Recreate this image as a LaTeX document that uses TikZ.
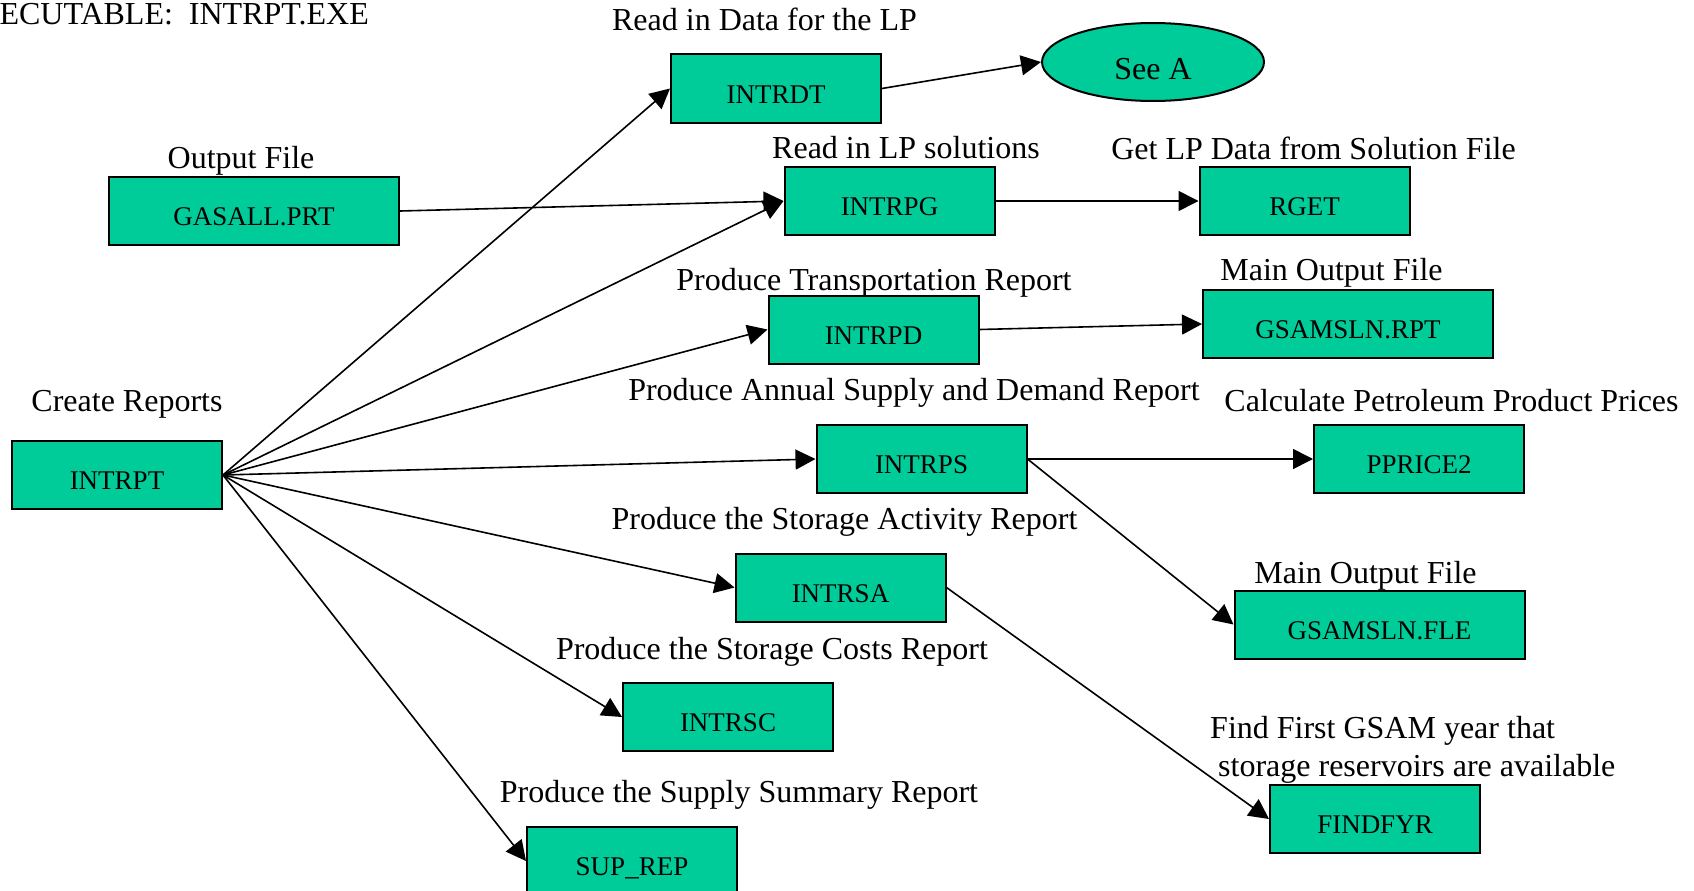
\documentclass[tikz,border=0pt]{standalone}
\usepackage{fontspec}
\setmainfont{Liberation Serif}
\usepackage{tikz}
\usetikzlibrary{arrows.meta}
\usetikzlibrary{shapes.geometric}
\definecolor{boxgreen}{RGB}{0,204,153}

\begin{document}
\begin{tikzpicture}[x=1pt,y=-1pt,
  box/.style={draw=black, line width=2pt, fill=boxgreen, minimum width=210pt,
    minimum height=68pt, inner sep=0pt, text height=29pt, text depth=0pt,
    font=\fontsize{27}{32}\selectfont},
  widebox/.style={box, minimum width=290pt},
  lbl/.style={anchor=base, inner sep=0pt, font=\fontsize{32}{38}\selectfont},
  link/.style={line width=1.6pt, -{Triangle[length=20pt,width=20pt]}}]
\useasboundingbox (0,0) rectangle (1694,891);
\clip (0,0) rectangle (1694,891);

% boxes
\node[box] (intrpt) at (117,475) {INTRPT};
\node[widebox] (gasall) at (254,211) {GASALL.PRT};
\node[box] (intrdt) at (776,88.5) {INTRDT};
\node[ellipse, draw=black, line width=2pt, fill=boxgreen, minimum width=222pt,
  minimum height=78pt, inner sep=0pt, text height=34pt, text depth=0pt,
  font=\fontsize{32}{38}\selectfont] (seea) at (1153,62) {See A};
\node[box] (intrpg) at (889.5,201) {INTRPG};
\node[box] (rget) at (1304.5,201) {RGET};
\node[box] (intrpd) at (873.5,329.5) {INTRPD};
\node[widebox] (gsrpt) at (1348,324) {GSAMSLN.RPT};
\node[box] (intrps) at (921.5,459) {INTRPS};
\node[box] (pprice) at (1419,459) {PPRICE2};
\node[box] (intrsa) at (840.5,587.5) {INTRSA};
\node[widebox] (gsfle) at (1379.5,624.5) {GSAMSLN.FLE};
\node[box] (intrsc) at (728,717) {INTRSC};
\node[box] (findfyr) at (1375,819) {FINDFYR};
\node[box] (suprep) at (632,861) {SUP\_REP};

% labels
\node[lbl, anchor=base east] (title) at (369,25) {ECUTABLE:\ \ INTRPT.EXE};
\node[lbl] (gasalllbl) at (241,168) {Output File};
\node[lbl] (intrdtlbl) at (764.5,31) {Read in Data for the LP};
\node[lbl] (intrpglbl) at (906,158) {Read in LP solutions};
\node[lbl] (rgetlbl) at (1313.5,159) {Get LP Data from Solution File};
\node[lbl] (intrpdlbl) at (874,290) {Produce Transportation Report};
\node[lbl] (gsrptlbl) at (1331.5,280) {Main Output File};
\node[lbl] (intrptlbl) at (127,411) {Create Reports};
\node[lbl] (intrpslbl) at (914,400) {Produce Annual Supply and Demand Report};
\node[lbl] (pricelbl) at (1451.5,411) {Calculate Petroleum Product Prices};
\node[lbl] (intrsalbl) at (844.5,529) {Produce the Storage Activity Report};
\node[lbl] (gsflelbl) at (1365.5,583) {Main Output File};
\node[lbl] (intrsclbl) at (772,659) {Produce the Storage Costs Report};
\node[lbl, anchor=base west] (findlbl) at (1210,738) {Find First GSAM year that};
\node[lbl, anchor=base west] (findlblb) at (1218,776) {storage reservoirs are available};
\node[lbl] (suplbl) at (739,802) {Produce the Supply Summary Report};

% arrows
\draw[link] (intrpt.east) -- (intrdt.west);
\draw[link] (intrpt.east) -- (intrpg.west);
\draw[link] (intrpt.east) -- (intrpd.west);
\draw[link] (intrpt.east) -- (intrps.west);
\draw[link] (intrpt.east) -- (intrsa.west);
\draw[link] (intrpt.east) -- (intrsc.west);
\draw[link] (intrpt.east) -- (suprep.west);
\draw[link] (gasall.east) -- (intrpg.west);
\draw[link] (intrdt.east) -- (seea.west);
\draw[link] (intrpg.east) -- (rget.west);
\draw[link] (intrpd.east) -- (gsrpt.west);
\draw[link] (intrps.east) -- (pprice.west);
\draw[link] (intrps.east) -- (gsfle.west);
\draw[link] (intrsa.east) -- (findfyr.west);
\end{tikzpicture}
\end{document}
